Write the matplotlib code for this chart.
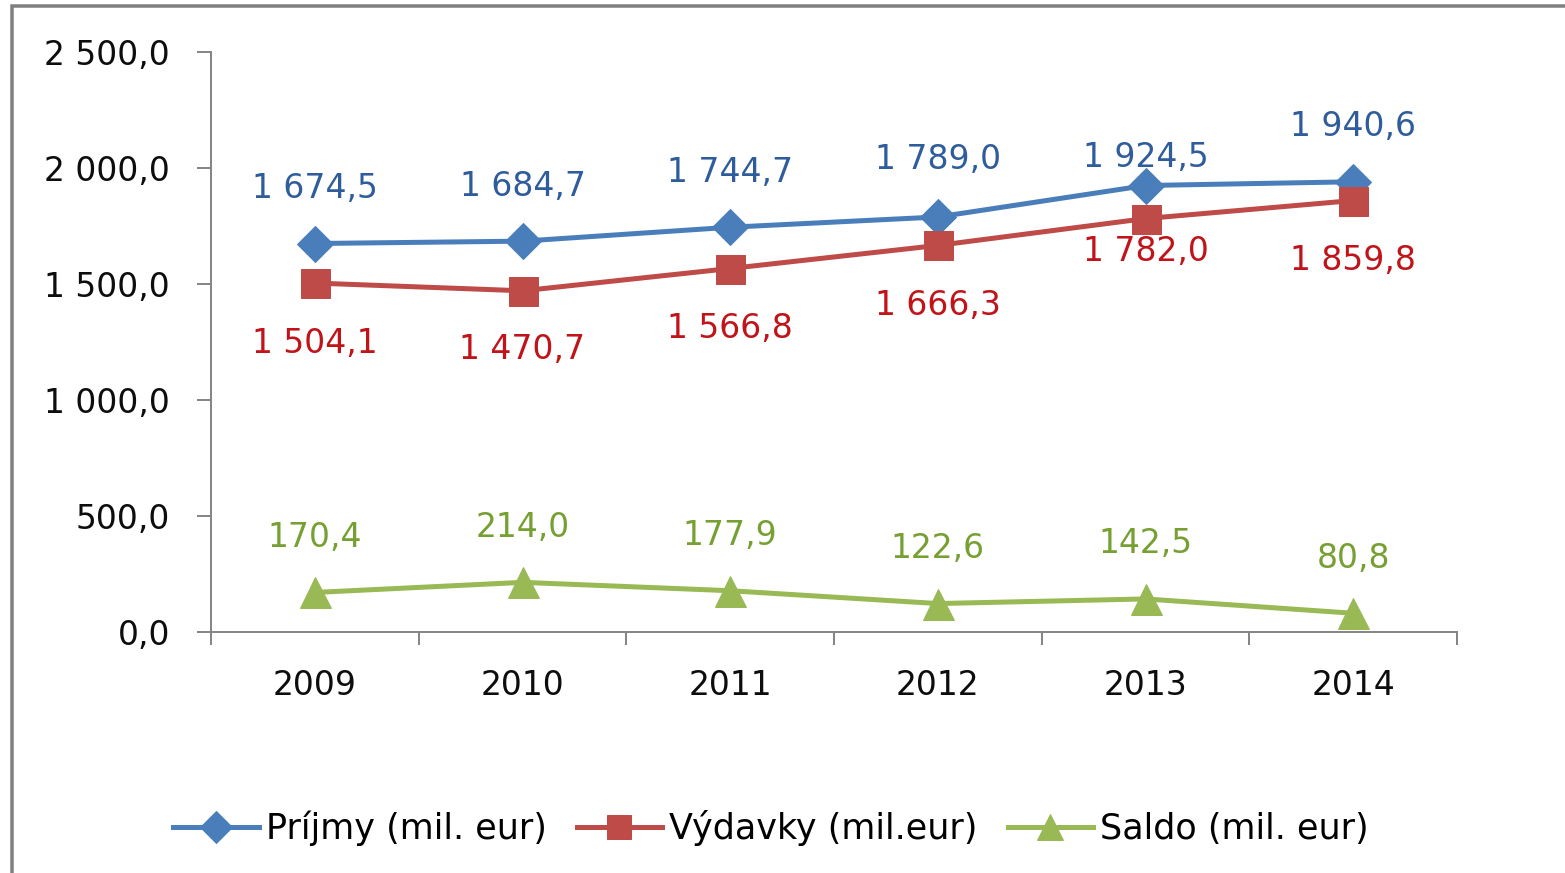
import matplotlib
matplotlib.use("Agg")
import matplotlib.pyplot as plt
from matplotlib.patches import Rectangle
from matplotlib.ticker import FuncFormatter, FixedLocator, MultipleLocator
import numpy as np

years = ["2009", "2010", "2011", "2012", "2013", "2014"]
prijmy = [1674.5, 1684.7, 1744.7, 1789.0, 1924.5, 1940.6]
vydavky = [1504.1, 1470.7, 1566.8, 1666.3, 1782.0, 1859.8]
saldo = [170.4, 214.0, 177.9, 122.6, 142.5, 80.8]
series_names = ["Príjmy (mil. eur)", "Výdavky (mil.eur)", "Saldo (mil. eur)"]

# label offsets in pixels (dpi = 72 so points == pixels)
off_prijmy = [55, 55, 55, 57, 28, 55]
off_vydavky = [-60, -59, -60, -60, -33, -60]
off_saldo = [55, 55, 55, 55, 55, 55]

W, H = 1565, 873
fig = plt.figure(figsize=(W / 72, H / 72), dpi=72)
plt.rcParams['font.family'] = ['DejaVu Sans']

ax = fig.add_axes([211 / W, 1 - 632 / H, (1457 - 211) / W, (632 - 52) / H])

def fmt(v):
    s = f"{v:,.1f}"
    return s.replace(",", " ").replace(".", ",")

x = np.arange(len(years))
c_blue, c_red, c_green = "#4A7EBB", "#BE4B48", "#98B954"
lc_blue, lc_red, lc_green = "#2F5D9B", "#C0141A", "#77A033"

ax.plot(x, prijmy, color=c_blue, lw=5, marker="D", ms=26, zorder=3, label=series_names[0])
ax.plot(x, vydavky, color=c_red, lw=5, marker="s", ms=29, zorder=3, label=series_names[1])
ax.plot(x, saldo, color=c_green, lw=5, marker="^", ms=31, zorder=3, label=series_names[2])

fs = 33
for xi, v, o in zip(x, prijmy, off_prijmy):
    ax.annotate(fmt(v), (xi, v), xytext=(0, o), textcoords="offset points",
                ha="center", va="center", color=lc_blue, fontsize=fs)
for xi, v, o in zip(x, vydavky, off_vydavky):
    ax.annotate(fmt(v), (xi, v), xytext=(0, o), textcoords="offset points",
                ha="center", va="center", color=lc_red, fontsize=fs)
for xi, v, o in zip(x, saldo, off_saldo):
    ax.annotate(fmt(v), (xi, v), xytext=(0, o), textcoords="offset points",
                ha="center", va="center", color=lc_green, fontsize=fs)

ax.set_xlim(-0.5, len(years) - 0.5)
ax.set_ylim(0, 2500)
ax.yaxis.set_major_locator(MultipleLocator(500))
ax.yaxis.set_major_formatter(FuncFormatter(lambda v, p: fmt(v)))
ax.set_xticks(x)
ax.set_xticklabels(years)
ax.xaxis.set_minor_locator(FixedLocator(np.arange(-0.5, len(years), 1.0)))
ax.tick_params(axis="x", which="major", length=0, pad=37, labelsize=fs, colors="#0d0d0d")
ax.tick_params(axis="x", which="minor", length=13, width=2, color="#868686")
ax.tick_params(axis="y", length=14, width=2, color="#868686", pad=27, labelsize=fs, labelcolor="#0d0d0d")

for s in ["top", "right"]:
    ax.spines[s].set_visible(False)
for s in ["left", "bottom"]:
    ax.spines[s].set_color("#868686")
    ax.spines[s].set_linewidth(2)

leg = fig.legend(loc="center", bbox_to_anchor=(771 / W, 1 - 828 / H), ncol=3, frameon=False,
                 fontsize=35, handlelength=2.45, handletextpad=0.2, columnspacing=0.85,
                 borderpad=0, markerscale=0.85)

fig.patches.append(Rectangle((12 / W, -0.05), 1.2, (H - 6) / H + 0.05, transform=fig.transFigure,
                             fill=False, edgecolor="#808080", lw=3.5, zorder=10))

fig.savefig("out.png", dpi=72)
